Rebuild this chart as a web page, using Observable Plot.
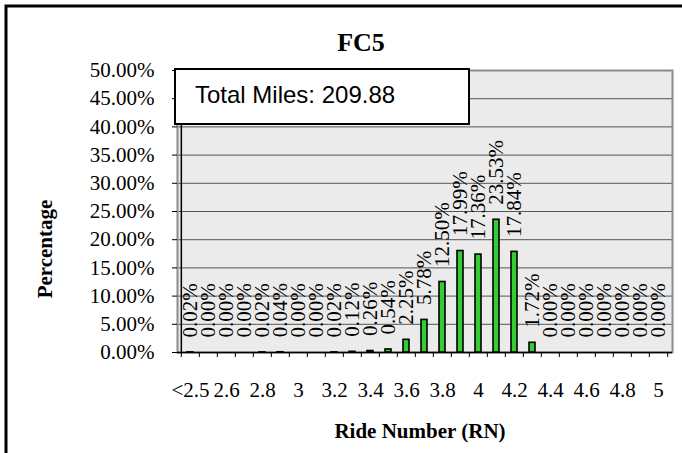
<!DOCTYPE html>
<html>
<head>
<meta charset="utf-8">
<script src="https://cdn.jsdelivr.net/npm/d3@7"></script>
<script src="https://cdn.jsdelivr.net/npm/@observablehq/plot@0.6"></script>
<style>
  html, body { margin: 0; padding: 0; background: white; }
  svg { display: block; }
</style>
</head>
<body>
<div id="chart"></div>
<script>
const categories = ["<2.5","2.5","2.6","2.7","2.8","2.9","3","3.1","3.2","3.3","3.4","3.5","3.6","3.7","3.8","3.9","4","4.1","4.2","4.3","4.4","4.5","4.6","4.7","4.8","4.9","5"];
const percentages = [0.02,0,0,0,0.02,0.04,0,0,0.02,0.12,0.26,0.54,2.25,5.78,12.50,17.99,17.36,23.53,17.84,1.72,0,0,0,0,0,0,0];
const yTicks = [0,5,10,15,20,25,30,35,40,45,50];
const titleText = "FC5";
const boxText = "Total Miles: 209.88";
const xTitle = "Ride Number (RN)";
const yTitle = "Percentage";

const data = categories.map((c, i) => ({cat: c, val: percentages[i]}));

const W = 682, H = 453;
const mL = 177, mR = 10, mT = 70, mB = 101;
const step = (W - mL - mR) / categories.length;
const serif = "'Liberation Serif', 'Times New Roman', serif";

const chart = Plot.plot({
  width: W, height: H,
  marginLeft: mL, marginRight: mR, marginTop: mT, marginBottom: mB,
  style: {fontFamily: serif, fontSize: "21px", background: "white", color: "black", overflow: "visible"},
  x: {domain: categories, paddingInner: 0.645, paddingOuter: 0.3225, align: 0.5, label: null},
  y: {domain: [0, 50], label: null},
  marks: [
    Plot.frame({fill: "#ebebeb", stroke: null}),
    Plot.gridY(yTicks.filter(d => d > 0 && d < 50), {stroke: "#555", strokeOpacity: 1, strokeWidth: 1}),
    Plot.frame({stroke: "#8c8c8c", strokeWidth: 2}),
    Plot.barY(data, {x: "cat", y: "val", fill: "#33cc33", stroke: "black", strokeWidth: 1.6}),
    Plot.text(data, {x: "cat", y: "val", text: d => d.val.toFixed(2) + "%", rotate: -90, textAnchor: "start", dy: -15, fontSize: 21, fill: "black"}),
    Plot.ruleY([0], {stroke: "black", strokeWidth: 1.5}),
    Plot.ruleX([categories[0]], {dx: -step / 2, y1: 0, y2: 50, stroke: "black", strokeWidth: 1.5}),
    Plot.ruleX(categories, {x: d => d, dx: -step / 2, y1: 0, y2: -0.9, stroke: "black", strokeWidth: 1}),
    Plot.ruleX([categories[categories.length - 1]], {dx: step / 2, y1: 0, y2: -0.9, stroke: "black", strokeWidth: 1}),
    Plot.axisY({ticks: yTicks, tickFormat: d => d.toFixed(2) + "%", tickSize: 5, tickPadding: 18, fontSize: 21}),
    Plot.axisX({tickSize: 0, tickPadding: 30, fontSize: 21, tickFormat: (d, i) => (categories.indexOf(d) % 2 === 0 ? d : "")})
  ]
});

const svg = d3.select(chart);
// outer chart border
svg.append("rect").attr("x", 6).attr("y", 6).attr("width", 700).attr("height", 470)
  .attr("fill", "none").attr("stroke", "black").attr("stroke-width", 3);
// title
svg.append("text").attr("x", 361).attr("y", 51).attr("text-anchor", "middle")
  .attr("font-family", serif).attr("font-weight", "bold").attr("font-size", 26).attr("fill", "black").text(titleText);
// text box
svg.append("rect").attr("x", 175).attr("y", 69).attr("width", 294).attr("height", 55)
  .attr("fill", "white").attr("stroke", "black").attr("stroke-width", 2);
svg.append("text").attr("x", 195).attr("y", 103).attr("text-anchor", "start")
  .attr("font-family", "'Liberation Sans', Arial, sans-serif").attr("font-size", 24).attr("fill", "black").text(boxText);
// axis titles
svg.append("text").attr("x", 420).attr("y", 438).attr("text-anchor", "middle")
  .attr("font-family", serif).attr("font-weight", "bold").attr("font-size", 21).attr("fill", "black").text(xTitle);
svg.append("text").attr("transform", "translate(52,249) rotate(-90)").attr("text-anchor", "middle")
  .attr("font-family", serif).attr("font-weight", "bold").attr("font-size", 21).attr("fill", "black").text(yTitle);

document.getElementById("chart").appendChild(chart);
</script>
</body>
</html>
